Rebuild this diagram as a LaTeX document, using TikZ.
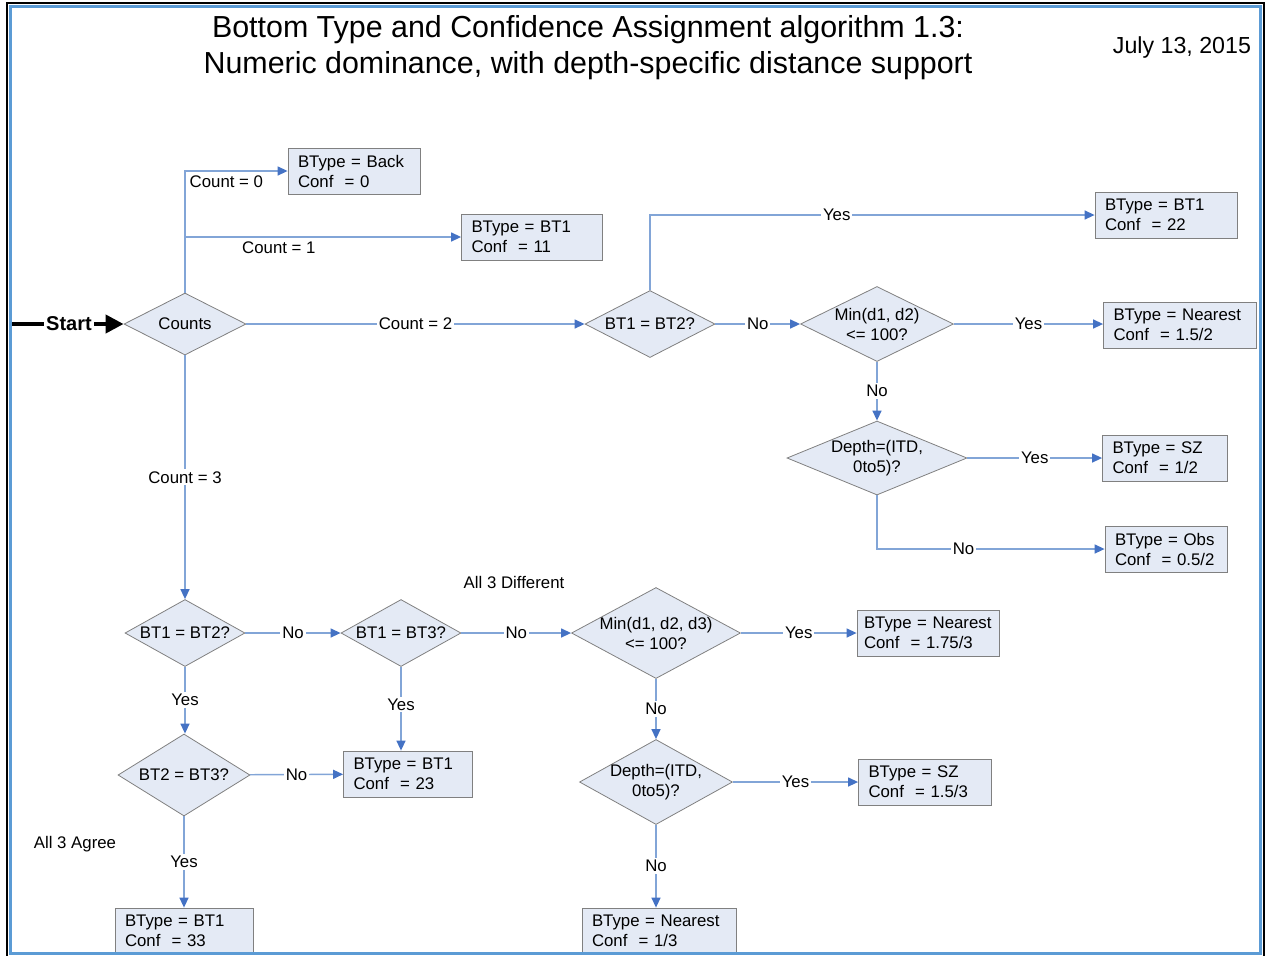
\documentclass[tikz,border=0pt]{standalone}
\usepackage{fontspec}
\setmainfont{Liberation Sans}
\usetikzlibrary{shapes.geometric,arrows.meta}
\definecolor{boxfill}{RGB}{228,234,245}
\definecolor{boxline}{RGB}{128,128,128}
\definecolor{flowline}{RGB}{130,165,215}
\definecolor{flowtip}{RGB}{68,114,196}
\definecolor{framecol}{RGB}{91,155,213}
\tikzset{
	decision/.style={diamond, aspect=2, draw=boxline, fill=boxfill, inner sep=-2pt, align=center},
	result/.style={rectangle, draw=boxline, fill=boxfill, align=left, inner xsep=5pt, inner ysep=2pt, minimum height=23pt, text width=#1},
	flow/.style={draw=flowline, line width=0.7pt, -{Triangle[length=5pt,width=4.5pt,color=flowtip]}},
	lbl/.style={fill=white, inner sep=1pt},
}
\begin{document}
\begin{tikzpicture}[x=0.5pt, y=-0.5pt, font=\fontsize{8.4}{10}\selectfont]
		\useasboundingbox (0,0) rectangle (1265,955);
		\node[align=center, font=\fontsize{15.2}{18}\selectfont] at (588,48) (title) {Bottom Type and Confidence Assignment algorithm 1.3:\\Numeric dominance, with depth-specific distance support};
		\node[anchor=east, font=\fontsize{11.6}{14}\selectfont] at (1258,47) (date) {July 13, 2015};

		\node[decision, minimum width=61pt, minimum height=31pt] at (185,324) (counts) {Counts};
		\node[font=\bfseries\fontsize{10}{12}\selectfont, inner sep=1pt] at (69,324) (start) {Start};
		\coordinate (entry) at (12,324);
		\draw[line width=2pt] (entry) -- (start);
		\draw[line width=2pt, -{Triangle[length=9pt,width=9pt]}] (start) -- (counts);

		\node[result=56pt] at (354,171) (back) {BType = Back\\Conf~ = 0};
		\node[result=60.5pt] at (532,237) (btone11) {BType = BT1\\Conf~ = 11};
		\node[decision, minimum width=65pt, minimum height=33.5pt] at (650,324) (bteq12) {BT1 = BT2?};
		\node[result=61pt] at (1166,215) (btone22) {BType = BT1\\Conf~ = 22};
		\node[decision, minimum width=76.5pt, minimum height=37.5pt] at (877,324) (mintwo) {Min(d1, d2)\\<= 100?};
		\node[result=66.5pt] at (1180,325) (near2) {BType = Nearest\\Conf~ = 1.5/2};
		\node[decision, minimum width=90pt, minimum height=37pt] at (877,458) (depthtwo) {Depth=(ITD,\\0to5)?};
		\node[result=52.5pt] at (1165,458) (sz2) {BType = SZ\\Conf~ = 1/2};
		\node[result=51pt] at (1166,549) (obs2) {BType = Obs\\Conf~ = 0.5/2};

		\node[decision, minimum width=60pt, minimum height=33.5pt] at (185,633) (lowtwelve) {BT1 = BT2?};
		\node[decision, minimum width=60pt, minimum height=33.5pt] at (401,633) (lowthirteen) {BT1 = BT3?};
		\node[decision, minimum width=84.5pt, minimum height=45.5pt] at (656,633) (minthree) {Min(d1, d2, d3)\\<= 100?};
		\node[result=64pt, inner xsep=3.5pt] at (928,633) (near3) {BType = Nearest\\Conf~ = 1.75/3};
		\node[decision, minimum width=76.5pt, minimum height=42.5pt] at (656,782) (depththree) {Depth=(ITD,\\0to5)?};
		\node[result=56.5pt] at (925,782) (sz3) {BType = SZ\\Conf~ = 1.5/3};
		\node[result=67pt] at (659,931) (near1) {BType = Nearest\\Conf~ = 1/3};
		\node[result=54.5pt] at (408,774) (btone23) {BType = BT1\\Conf~ = 23};
		\node[decision, minimum width=66pt, minimum height=41pt] at (184,775) (lowtwothree) {BT2 = BT3?};
		\node[result=59pt] at (184,931) (btone33) {BType = BT1\\Conf~ = 33};
		\node at (514,582) (differ) {All 3 Different};
		\node at (75,844) (agree) {All 3 Agree};

		\draw[flow] (counts.north) |- (back.west) node[pos=0.5, below right, inner sep=2pt] (lzero) {Count = 0};
		\draw[flow] (counts.north) |- (btone11.west) node[pos=0.67, below, inner sep=2pt] (lone) {Count = 1};
		\draw[flow] (counts) -- (bteq12) node[midway, lbl] (ltwo) {Count = 2};
		\draw[flow] (counts) -- (lowtwelve) node[midway, lbl] (lthree) {Count = 3};
		\draw[flow] (bteq12.north) |- (btone22.west) node[pos=0.71, lbl] (yesa) {Yes};
		\draw[flow] (bteq12) -- (mintwo) node[midway, lbl] (noa) {No};
		\draw[flow] (mintwo.east) -- (mintwo.east -| near2.west) node[midway, lbl] (yesb) {Yes};
		\draw[flow] (mintwo) -- (depthtwo) node[midway, lbl] (nob) {No};
		\draw[flow] (depthtwo) -- (sz2) node[midway, lbl] (yesc) {Yes};
		\draw[flow] (depthtwo.south) |- (obs2.west) node[pos=0.69, lbl] (noc) {No};

		\draw[flow] (lowtwelve) -- (lowthirteen) node[midway, lbl] (nod) {No};
		\draw[flow] (lowthirteen) -- (minthree) node[midway, lbl] (noe) {No};
		\draw[flow] (minthree) -- (near3) node[midway, lbl] (yesd) {Yes};
		\draw[flow] (minthree) -- (depththree) node[midway, lbl] (nof) {No};
		\draw[flow] (depththree) -- (sz3) node[midway, lbl] (yese) {Yes};
		\draw[flow] (depththree.south) -- (depththree.south |- near1.north) node[midway, lbl] (nog) {No};
		\draw[flow] (lowthirteen.south) -- (lowthirteen.south |- btone23.north) node[pos=0.45, lbl] (yesf) {Yes};
		\draw[flow] (lowtwelve.south) -- (lowtwelve.south |- lowtwothree.north) node[midway, lbl] (yesg) {Yes};
		\draw[flow] (lowtwothree) -- (btone23) node[midway, lbl] (noh) {No};
		\draw[flow] (lowtwothree.south) -- (lowtwothree.south |- btone33.north) node[midway, lbl] (yesh) {Yes};

		\draw[line width=1pt] (7,3) rectangle (1264,962);
		\draw[framecol, line width=1.5pt] (10,6) rectangle (1260,953);
\end{tikzpicture}
\end{document}
